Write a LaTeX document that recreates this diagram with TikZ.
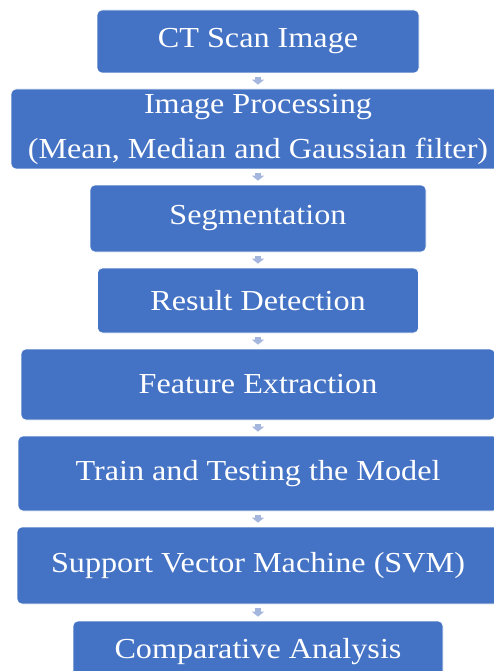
\documentclass[tikz,border=0pt]{standalone}
\usepackage{fontspec}
\setmainfont{Liberation Serif}[FakeStretch=1.11]
\usepackage{tikz}
\usetikzlibrary{arrows.meta}
\definecolor{boxblue}{HTML}{4472C4}
\definecolor{arrowblue}{RGB}{165,182,222}
\tikzstyle{Stage}=[rectangle, rounded corners=5pt, fill=boxblue, draw=white, line width=0.6pt, text=white, align=center, inner sep=0pt, font=\fontsize{29}{45}\selectfont]
\tikzstyle{Link}=[draw=arrowblue, line width=5.5pt, -{Triangle[width=12pt,length=5pt]}, shorten <=4pt, shorten >=4pt]

\begin{document}
\begin{tikzpicture}[x=1pt, y=-1pt]
    \useasboundingbox (0,0) rectangle (494,671);
    \path
    (258,41.5) node[Stage, minimum width=322, minimum height=63] (ct) {CT Scan Image}
    (258,129) node[Stage, minimum width=494, minimum height=80] (proc) {Image Processing\\(Mean, Median and Gaussian filter)}
    (258,218.5) node[Stage, minimum width=336, minimum height=67] (seg) {Segmentation}
    (258,300.5) node[Stage, minimum width=321, minimum height=65] (res) {Result Detection}
    (258,384.5) node[Stage, minimum width=474, minimum height=71] (feat) {Feature Extraction}
    (258,473.5) node[Stage, minimum width=480, minimum height=75] (train) {Train and Testing the Model}
    (258,565.5) node[Stage, minimum width=482, minimum height=77] (svm) {Support Vector Machine (SVM)}
    (258,652) node[Stage, minimum width=370, minimum height=62] (comp) {Comparative Analysis};

    \draw[Link] (ct) -- (proc);
    \draw[Link] (proc) -- (seg);
    \draw[Link] (seg) -- (res);
    \draw[Link] (res) -- (feat);
    \draw[Link] (feat) -- (train);
    \draw[Link] (train) -- (svm);
    \draw[Link] (svm) -- (comp);
\end{tikzpicture}
\end{document}
